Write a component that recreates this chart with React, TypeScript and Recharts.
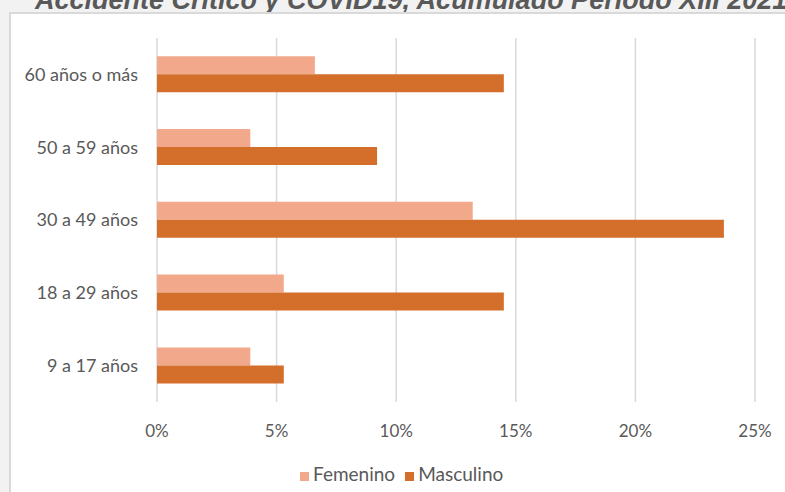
import React from "react";
import {
  BarChart,
  Bar,
  XAxis,
  YAxis,
  CartesianGrid,
  Legend,
} from "recharts";

// Age groups, top to bottom as shown
const groups = [
  "60 años o más",
  "50 a 59 años",
  "30 a 49 años",
  "18 a 29 años",
  "9 a 17 años",
];
// Share of cases (%)
const femenino = [6.6, 3.9, 13.2, 5.3, 3.9];
const masculino = [14.5, 9.2, 23.7, 14.5, 5.3];
const xTicks = [0, 5, 10, 15, 20, 25];

const title = "Accidente Crítico y COVID19, Acumulado Período XIII 2021";

const COLORS = {
  fem: "#F2A98B",
  masc: "#D46F2B",
  grid: "#D9D9D9",
  text: "#595959",
};

const FONT = "Lato, 'Open Sans', sans-serif";

export default function App() {
  const data = groups.map((name, i) => ({
    name,
    Femenino: femenino[i],
    Masculino: masculino[i],
  }));

  return (
    <div
      style={{
        position: "absolute",
        left: 0,
        top: 0,
        width: 785,
        height: 492,
        overflow: "hidden",
        background: "#F2F2F2",
      }}
    >
      {/* title, clipped at the top like the source */}
      <svg
        width={785}
        height={14}
        style={{ position: "absolute", left: 0, top: 0 }}
      >
        <text
          x={35}
          y={9}
          fontFamily="'Liberation Sans', Arial, sans-serif"
          fontStyle="italic"
          fontWeight="bold"
          fontSize={27}
          fill={COLORS.text}
        >
          {title}
        </text>
      </svg>
      {/* chart box */}
      <div
        style={{
          position: "absolute",
          left: 9,
          top: 12,
          width: 820,
          height: 520,
          background: "#FFFFFF",
          border: "2px solid #D9D9D9",
        }}
      />
      <div style={{ position: "absolute", left: 0, top: 0 }}>
        <BarChart
          width={785}
          height={492}
          data={data}
          layout="vertical"
          margin={{ top: 38, right: 30, left: 0, bottom: 0 }}
          barCategoryGap="25%"
          barGap={0}
        >
          <CartesianGrid
            horizontal={false}
            stroke={COLORS.grid}
            strokeWidth={1.5}
          />
          <XAxis
            type="number"
            domain={[0, 25]}
            ticks={xTicks}
            tickFormatter={(v) => `${v}%`}
            axisLine={false}
            tickLine={false}
            tickSize={0}
            tickMargin={23}
            height={60}
            tick={{ fill: COLORS.text, fontSize: 17, fontFamily: FONT }}
          />
          <YAxis
            type="category"
            dataKey="name"
            width={157}
            axisLine={false}
            tickLine={false}
            tickSize={0}
            tickMargin={19}
            tick={{ fill: COLORS.text, fontSize: 18, fontFamily: FONT }}
          />
          <Legend
            verticalAlign="bottom"
            align="left"
            height={30}
            iconType="square"
            iconSize={9}
            wrapperStyle={{ left: 300, width: 260, fontFamily: FONT, fontSize: 19 }}
            formatter={(value) => (
              <span style={{ color: COLORS.text }}>{value}</span>
            )}
          />
          <Bar
            dataKey="Femenino"
            fill={COLORS.fem}
            isAnimationActive={false}
          />
          <Bar
            dataKey="Masculino"
            fill={COLORS.masc}
            isAnimationActive={false}
          />
        </BarChart>
      </div>
    </div>
  );
}
